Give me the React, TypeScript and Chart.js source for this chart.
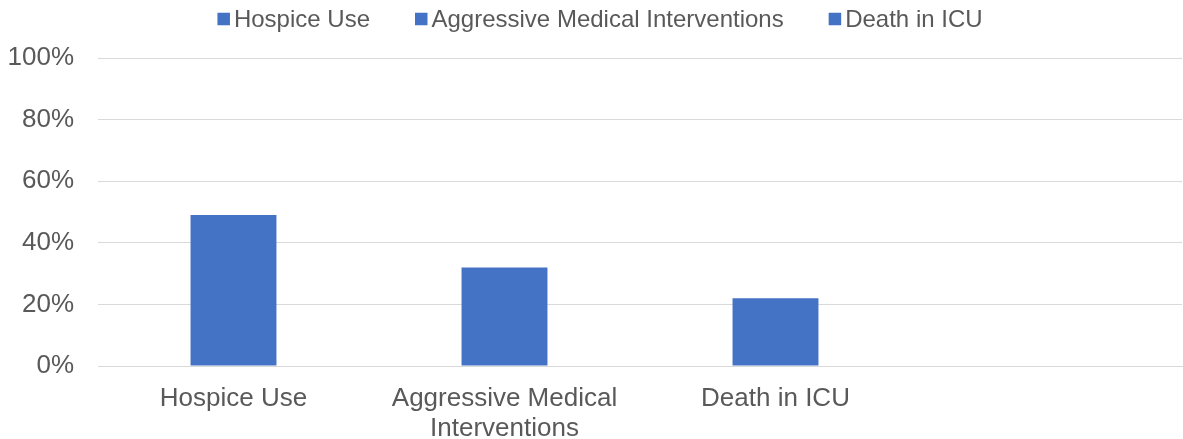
import React, { useEffect, useRef } from "react";
import { Chart, registerables } from "chart.js";

Chart.register(...registerables);

const categories: (string | string[])[] = [
  "Hospice Use",
  ["Aggressive Medical", "Interventions"],
  "Death in ICU",
  "",
];
const values: (number | null)[] = [49, 32, 22, null];
const legendLabels: string[] = ["Hospice Use", "Aggressive Medical Interventions", "Death in ICU"];
const yTicks: number[] = [0, 20, 40, 60, 80, 100];

const BAR_COLOR = "#4472C4";
const TEXT_COLOR = "#595959";
const GRID_COLOR = "#D9D9D9";
const FONT = '"Liberation Sans", Arial, sans-serif';

const customLegend = {
  id: "customLegend",
  afterDraw(chart: any) {
    const ctx = chart.ctx as CanvasRenderingContext2D;
    ctx.save();
    ctx.font = `24px ${FONT}`;
    const box = 12.5;
    const gap = 4;
    const itemGap = 45;
    const widths = legendLabels.map((t) => box + gap + ctx.measureText(t).width);
    const total = widths.reduce((a, b) => a + b, 0) + itemGap * (widths.length - 1);
    let x = 600 - total / 2;
    const cy = 19;
    ctx.textBaseline = "middle";
    ctx.textAlign = "left";
    legendLabels.forEach((t, i) => {
      ctx.fillStyle = BAR_COLOR;
      ctx.fillRect(x, cy - box / 2, box, box);
      ctx.fillStyle = TEXT_COLOR;
      ctx.fillText(t, x + box + gap, cy + 1);
      x += widths[i] + itemGap;
    });
    ctx.restore();
  },
};

export default function App() {
  const ref = useRef<HTMLCanvasElement | null>(null);
  useEffect(() => {
    if (!ref.current) return;
    const chart = new Chart(ref.current, {
      type: "bar",
      data: {
        labels: categories as any,
        datasets: [
          {
            label: "Share",
            data: values,
            backgroundColor: BAR_COLOR,
            borderWidth: 0,
            barPercentage: 0.317,
            categoryPercentage: 1,
          },
        ],
      },
      options: {
        responsive: false,
        animation: false,
        devicePixelRatio: 1,
        layout: { padding: { top: 58, left: 8, right: 1, bottom: 0 } },
        plugins: {
          legend: { display: false },
          tooltip: { enabled: false },
        },
        scales: {
          x: {
            grid: { display: false, drawTicks: false },
            border: { display: true, color: GRID_COLOR, width: 1 },
            ticks: {
              color: TEXT_COLOR,
              font: { family: FONT, size: 26, lineHeight: 1.15 },
              padding: 18,
              maxRotation: 0,
              autoSkip: false,
            },
            afterFit: (s: any) => {
              s.height = 73;
            },
          },
          y: {
            min: 0,
            max: 100,
            grid: { color: GRID_COLOR, lineWidth: 1, drawTicks: false },
            border: { display: false },
            ticks: {
              color: TEXT_COLOR,
              font: { family: FONT, size: 26 },
              padding: 24,
              callback: (v: any) => `${v}%`,
            },
            afterBuildTicks: (s: any) => {
              s.ticks = yTicks.map((v) => ({ value: v }));
            },
            afterFit: (s: any) => {
              s.width = 90;
            },
          },
        },
      },
      plugins: [customLegend],
    });
    return () => chart.destroy();
  }, []);
  return (
    <div style={{ position: "fixed", left: 0, top: 0, width: 1183, height: 439, background: "#fff" }}>
      <canvas ref={ref} width={1183} height={439} />
    </div>
  );
}
